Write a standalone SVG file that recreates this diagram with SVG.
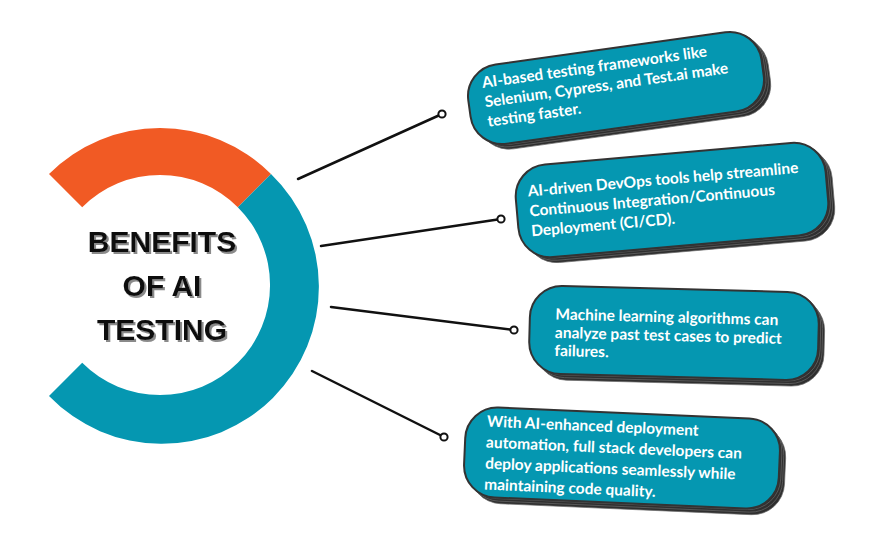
<svg xmlns="http://www.w3.org/2000/svg" width="890" height="550" viewBox="0 0 890 550">
<defs>
<style>
.title{font-family:"Liberation Sans",Arial,sans-serif;font-weight:700;font-size:30px;text-anchor:middle;fill:#111}
.card{fill:#0597b1;stroke:#333;stroke-width:2}
.stack{fill:#2f2f2f;stroke:#6a6a6a;stroke-width:0.7}
.bt{font-family:Lato,"Liberation Sans",sans-serif;font-weight:700;font-size:15.5px;fill:#fff}
.conn line{stroke:#111;stroke-width:2.5;stroke-linecap:round}
.conn circle{fill:#fff;stroke:#111;stroke-width:2}
</style>
<filter id="tsh" x="-10%" y="-10%" width="130%" height="140%">
<feFlood flood-color="#8a8a8a" result="c"/>
<feComposite in="c" in2="SourceAlpha" operator="in" result="s"/>
<feOffset in="s" dx="2" dy="2" result="o"/>
<feMerge><feMergeNode in="o"/><feMergeNode in="SourceGraphic"/></feMerge>
</filter>
</defs>
<rect width="890" height="550" fill="#fff"/>
<g id="ring">
<path d="M49,174 A157,157 0 0 1 271,174 L237.8,207.2 A110,110 0 0 0 82.2,207.2 Z" fill="#f15a24"/>
<path d="M271,174 A157,157 0 1 1 49,396 L82.2,362.8 A110,110 0 1 0 237.8,207.2 Z" fill="#0597b1"/>
</g>
<g id="title" class="title" filter="url(#tsh)">
<text x="162" y="252">BENEFITS</text>
<text x="162" y="296">OF AI</text>
<text x="162" y="340">TESTING</text>
</g>
<g id="connectors" class="conn">
<line x1="298" y1="179" x2="442" y2="114"/>
<line x1="321" y1="246" x2="501" y2="219"/>
<line x1="331" y1="307" x2="514" y2="330"/>
<line x1="312" y1="371" x2="444" y2="437"/>
<circle cx="442" cy="114" r="3.6"/>
<circle cx="501" cy="219" r="3.6"/>
<circle cx="514" cy="330" r="3.6"/>
<circle cx="444" cy="437" r="3.6"/>
</g>
<g id="box1" transform="translate(616,88) rotate(-8)">
<rect class="stack" x="-142" y="-34" width="296" height="80" rx="32"/>
<rect class="stack" x="-144" y="-36.5" width="296" height="80" rx="32"/>
<rect class="stack" x="-146" y="-39" width="296" height="80" rx="32"/>
<rect class="card" x="-148" y="-40" width="296" height="80" rx="32"/>
<text class="bt" x="-132" y="-18.5">AI-based testing frameworks like</text>
<text class="bt" x="-132" y="1">Selenium, Cypress, and Test.ai make</text>
<text class="bt" x="-132" y="20.5">testing faster.</text>
</g>
<g id="box2" transform="translate(672,200) rotate(-5)">
<rect class="stack" x="-149.5" y="-40.5" width="311" height="93" rx="32"/>
<rect class="stack" x="-151.5" y="-43" width="311" height="93" rx="32"/>
<rect class="stack" x="-153.5" y="-45.5" width="311" height="93" rx="32"/>
<rect class="card" x="-155.5" y="-46.5" width="311" height="93" rx="32"/>
<text class="bt" x="-143" y="-16">AI-driven DevOps tools help streamline</text>
<text class="bt" x="-143" y="4">Continuous Integration/Continuous</text>
<text class="bt" x="-143" y="24">Deployment (CI/CD).</text>
</g>
<g id="box3" transform="translate(674,333) rotate(1.5)">
<rect class="stack" x="-138.5" y="-38" width="289" height="88" rx="32"/>
<rect class="stack" x="-140.5" y="-40.5" width="289" height="88" rx="32"/>
<rect class="stack" x="-142.5" y="-43" width="289" height="88" rx="32"/>
<rect class="card" x="-144.5" y="-44" width="289" height="88" rx="32"/>
<text class="bt" x="-119" y="-10.5">Machine learning algorithms can</text>
<text class="bt" x="-119" y="8">analyze past test cases to predict</text>
<text class="bt" x="-119" y="26">failures.</text>
</g>
<g id="box4" transform="translate(622,458) rotate(2.5)">
<rect class="stack" x="-151.5" y="-39" width="315" height="90" rx="32"/>
<rect class="stack" x="-153.5" y="-41.5" width="315" height="90" rx="32"/>
<rect class="stack" x="-155.5" y="-44" width="315" height="90" rx="32"/>
<rect class="card" x="-157.5" y="-45" width="315" height="90" rx="32"/>
<text class="bt" x="-136.5" y="-25.5">With AI-enhanced deployment</text>
<text class="bt" x="-136.5" y="-4.5">automation, full stack developers can</text>
<text class="bt" x="-136.5" y="16.5">deploy applications seamlessly while</text>
<text class="bt" x="-136.5" y="37.5">maintaining code quality.</text>
</g>
</svg>
